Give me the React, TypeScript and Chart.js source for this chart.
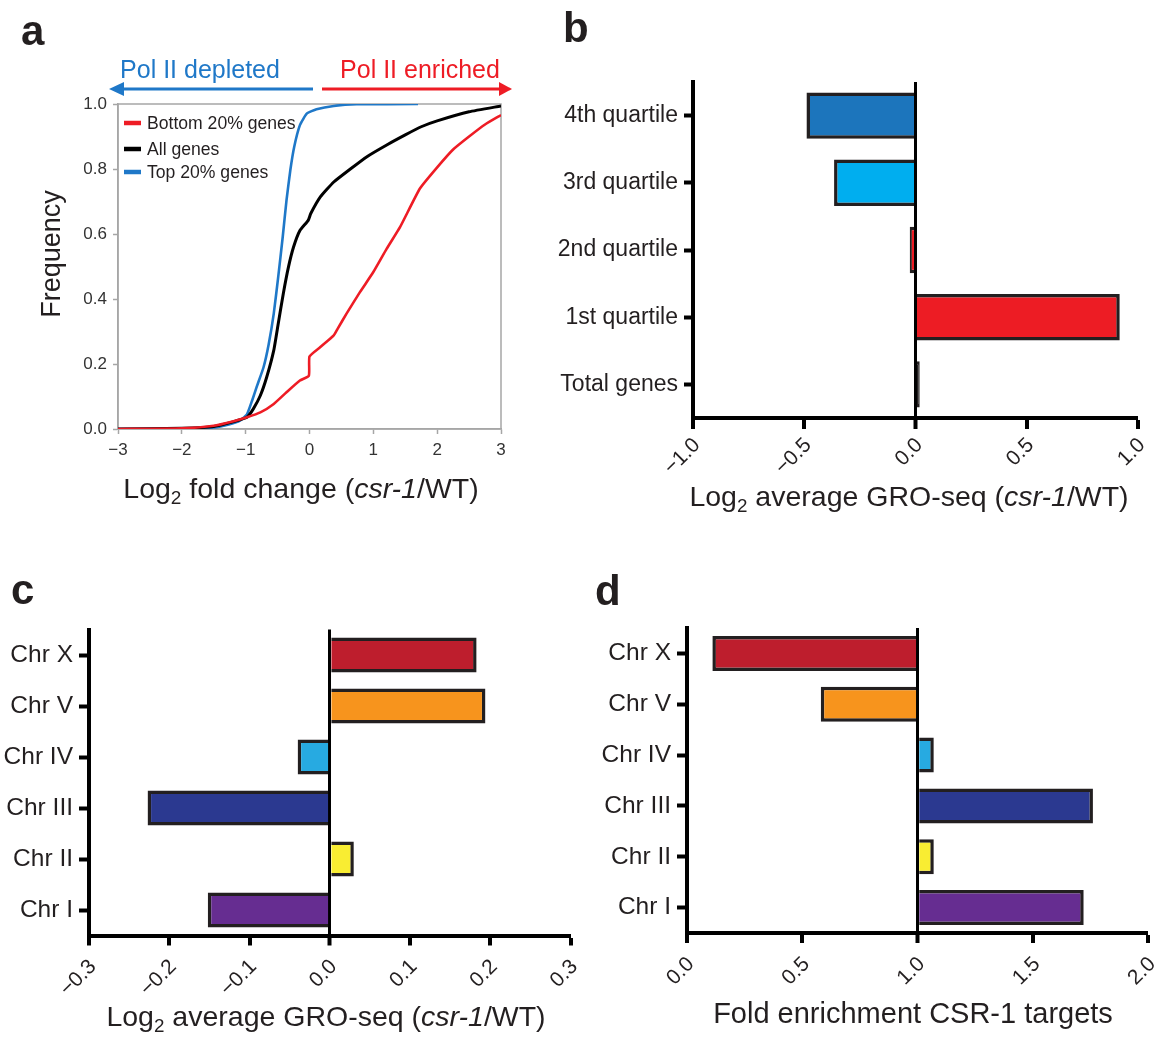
import React, { useEffect, useRef } from 'react';
import { Chart, registerables } from 'chart.js';

Chart.register(...registerables);

const FONT = "'Liberation Sans', Arial, Helvetica, sans-serif";
Chart.defaults.font.family = FONT;

// ---------- Panel a: cumulative frequency of log2 fold change ----------
const log2FcBottom = [-3, -2, -1.5, -1.19, -0.98, -0.77, -0.56, -0.36, -0.15, -0.01, 0.0, 0.17, 0.38, 0.44, 0.58, 0.79, 1.0, 1.21, 1.42, 1.73, 2.0, 2.25, 2.5, 2.75, 3.0];
const freqBottom = [0, 0.002, 0.01, 0.024, 0.036, 0.051, 0.077, 0.113, 0.149, 0.164, 0.223, 0.252, 0.288, 0.308, 0.355, 0.421, 0.483, 0.555, 0.622, 0.74, 0.805, 0.86, 0.9, 0.937, 0.966];

const log2FcAll = [-3, -2, -1.5, -1.2, -0.98, -0.88, -0.77, -0.67, -0.56, -0.49, -0.41, -0.33, -0.25, -0.15, -0.02, 0.02, 0.17, 0.38, 0.64, 0.9, 1.21, 1.5, 1.75, 2.0, 2.5, 3.0];
const freqAll = [0, 0.002, 0.008, 0.022, 0.036, 0.062, 0.103, 0.16, 0.242, 0.324, 0.417, 0.498, 0.56, 0.611, 0.642, 0.663, 0.714, 0.76, 0.8, 0.838, 0.874, 0.905, 0.93, 0.948, 0.976, 0.994];

const log2FcTop = [-3, -2, -1.5, -1.25, -1.09, -0.98, -0.9, -0.83, -0.72, -0.64, -0.56, -0.49, -0.42, -0.36, -0.3, -0.24, -0.15, -0.04, 0.11, 0.38, 0.74, 1.7];
const freqTop = [0, 0.001, 0.005, 0.015, 0.026, 0.045, 0.087, 0.128, 0.19, 0.26, 0.355, 0.468, 0.59, 0.704, 0.797, 0.868, 0.935, 0.971, 0.984, 0.994, 0.999, 1.0];

const legendNames = ['Bottom 20% genes', 'All genes', 'Top 20% genes'];
const curveColors = ['#ee1c25', '#000000', '#1f78c8'];
const curveWidths = [2.6, 3, 2.6];

// ---------- Panel b: quartiles ----------
const quartileLabels = ['4th quartile', '3rd quartile', '2nd quartile', '1st quartile', 'Total genes'];
const quartileValues = [-0.49, -0.366, -0.026, 0.918, 0.019];
const quartileColors = ['#1c75bc', '#00aeef', '#ed1c24', '#ed1c24', '#231f20'];

// ---------- Panels c & d: chromosomes ----------
const chrLabels = ['Chr X', 'Chr V', 'Chr IV', 'Chr III', 'Chr II', 'Chr I'];
const chrColors = ['#be1e2d', '#f7941d', '#27aae1', '#2b3990', '#f9ed32', '#662d91'];
const groSeqValues = [0.183, 0.194, -0.04, -0.227, 0.03, -0.152];
const csr1Enrichment = [0.11, 0.58, 1.07, 1.76, 1.07, 1.72];

const MINUS = '\u2212';
const fmt1 = (v: number) => {
  const r = Math.round(v * 10) / 10;
  if (Math.abs(r) < 1e-9) return '0.0';
  return (r < 0 ? MINUS : '') + Math.abs(r).toFixed(1);
};
const fmtInt = (v: number) => {
  const r = Math.round(v);
  return (r < 0 ? MINUS : '') + Math.abs(r);
};

const toPoints = (xs: number[], ys: number[]) => xs.map((x, i) => ({ x, y: ys[i] }));

const framePlugin = {
  id: 'frame',
  beforeDatasetsDraw(chart: any) {
    const { ctx, chartArea } = chart;
    const { left, top, right, bottom } = chartArea;
    ctx.save();
    ctx.strokeStyle = '#a6a6a6';
    ctx.lineWidth = 1.5;
    ctx.strokeRect(left, top, right - left, bottom - top);
    ctx.restore();
  },
};

function buildCdf(canvas: HTMLCanvasElement) {
  const series = [
    toPoints(log2FcBottom, freqBottom),
    toPoints(log2FcAll, freqAll),
    toPoints(log2FcTop, freqTop),
  ];
  return new Chart(canvas, {
    type: 'line',
    data: {
      datasets: series.map((d, i) => ({
        label: legendNames[i],
        data: d,
        borderColor: curveColors[i],
        borderWidth: curveWidths[i],
        pointRadius: 0,
        fill: false,
        tension: 0.15,
        borderJoinStyle: 'round',
      })),
    },
    options: {
      animation: false,
      responsive: false,
      maintainAspectRatio: false,
      layout: { padding: { top: 104, right: 19, left: 0, bottom: 0 } },
      plugins: { legend: { display: false }, tooltip: { enabled: false } },
      scales: {
        x: {
          type: 'linear',
          min: -3,
          max: 3,
          ticks: { stepSize: 1, callback: (v: any) => fmtInt(Number(v)), font: { size: 17 }, color: '#333', padding: 6, maxRotation: 0 },
          grid: { drawOnChartArea: false, drawTicks: true, tickLength: 5, color: '#a6a6a6', tickColor: '#a6a6a6', tickWidth: 1.5 },
          border: { display: true, color: '#a6a6a6', width: 1.5 },
          afterFit: (s: any) => { s.height = 41; s.paddingLeft = 0; s.paddingRight = 0; },
        },
        y: {
          type: 'linear',
          min: 0,
          max: 1,
          ticks: { stepSize: 0.2, callback: (v: any) => Number(v).toFixed(1), font: { size: 17 }, color: '#333', padding: 6 },
          grid: { drawOnChartArea: false, drawTicks: true, tickLength: 5, color: '#a6a6a6', tickColor: '#a6a6a6', tickWidth: 1.5 },
          border: { display: true, color: '#a6a6a6', width: 1.5 },
          afterFit: (s: any) => { s.width = 118; },
        },
      },
    } as any,
    plugins: [framePlugin],
  });
}

type BarOpts = {
  min: number; max: number; step: number; refValue: number; base?: number;
  yWidth: number; xHeight: number; padTop: number; padRight: number;
  yFont: number; xFont: number; yTick: number; xTick: number; xPad: number; yPad: number; labelOffset: number;
};

function buildBar(canvas: HTMLCanvasElement, labels: string[], values: number[], colors: string[], o: BarOpts) {
  const isRef = (ctx: any) => ctx && ctx.tick && Math.abs(ctx.tick.value - o.refValue) < 1e-9;
  const ds: any = {
    data: values,
    backgroundColor: colors,
    borderColor: '#231f20',
    borderWidth: 3.5,
    borderSkipped: 'start',
    barPercentage: 0.69,
    categoryPercentage: 1,
  };
  if (o.base !== undefined) ds.base = o.base;
  return new Chart(canvas, {
    type: 'bar',
    data: { labels, datasets: [ds] },
    options: {
      indexAxis: 'y',
      animation: false,
      responsive: false,
      maintainAspectRatio: false,
      layout: { padding: { top: o.padTop, right: o.padRight, left: 0, bottom: 0 } },
      plugins: { legend: { display: false }, tooltip: { enabled: false } },
      scales: {
        x: {
          type: 'linear',
          min: o.min,
          max: o.max,
          z: 1,
          ticks: {
            stepSize: o.step, autoSkip: false, maxRotation: 45, minRotation: 45, labelOffset: o.labelOffset,
            callback: (v: any) => fmt1(Number(v)), font: { size: o.xFont }, color: '#231f20', padding: o.xPad,
          },
          grid: {
            drawOnChartArea: true, drawTicks: true, tickLength: o.xTick, tickWidth: 4, tickColor: '#000',
            color: (ctx: any) => (isRef(ctx) ? '#000' : 'rgba(0,0,0,0)'),
            lineWidth: (ctx: any) => (isRef(ctx) ? 3 : 0),
          },
          border: { display: true, color: '#000', width: 4 },
          afterFit: (s: any) => { s.height = o.xHeight; s.paddingLeft = 0; s.paddingRight = 0; },
        },
        y: {
          type: 'category',
          offset: true,
          ticks: { font: { size: o.yFont }, color: '#231f20', padding: o.yPad, autoSkip: false },
          grid: { offset: false, drawOnChartArea: false, drawTicks: true, tickLength: o.yTick, tickWidth: 4, tickColor: '#000', color: '#000' },
          border: { display: true, color: '#000', width: 4 },
          afterFit: (s: any) => { s.width = o.yWidth; s.paddingTop = 0; s.paddingBottom = 0; },
        },
      },
    } as any,
  });
}

function ChartCanvas(props: { left: number; top: number; width: number; height: number; build: (c: HTMLCanvasElement) => Chart }) {
  const ref = useRef<HTMLCanvasElement>(null);
  useEffect(() => {
    const chart = props.build(ref.current as HTMLCanvasElement);
    return () => chart.destroy();
  }, []);
  return (
    <canvas
      ref={ref}
      width={props.width}
      height={props.height}
      style={{ position: 'absolute', left: props.left, top: props.top, width: props.width, height: props.height }}
    />
  );
}

function GroTitle({ x, y, size }: { x: number; y: number; size: number }) {
  return (
    <text x={x} y={y} textAnchor="middle" fontSize={size} fill="#231f20">
      Log<tspan dy={6} fontSize={size * 0.66}>2</tspan><tspan dy={-6}> average GRO-seq (</tspan><tspan fontStyle="italic">csr-1</tspan>/WT)
    </text>
  );
}

export default function App() {
  const legendY = [123, 149, 172];
  const legendBase = [129, 155, 178];
  return (
    <div style={{ position: 'absolute', left: 0, top: 0, width: 1158, height: 1041, background: '#fff', overflow: 'hidden', fontFamily: FONT }}>
      <ChartCanvas left={0} top={0} width={520} height={470} build={buildCdf} />
      <ChartCanvas
        left={540} top={0} width={618} height={520}
        build={(c) => buildBar(c, quartileLabels, quartileValues, quartileColors, {
          min: -1, max: 1, step: 0.5, refValue: 0, yWidth: 153, xHeight: 102, padTop: 82, padRight: 20,
          yFont: 23, xFont: 21, yTick: 9, xTick: 11, xPad: 4, yPad: 6, labelOffset: 4,
        })}
      />
      <ChartCanvas
        left={0} top={540} width={580} height={501}
        build={(c) => buildBar(c, chrLabels, groSeqValues, chrColors, {
          min: -0.3, max: 0.3, step: 0.1, refValue: 0, yWidth: 89, xHeight: 105.5, padTop: 89.5, padRight: 9.5,
          yFont: 24.5, xFont: 21, yTick: 10, xTick: 10, xPad: 9, yPad: 6, labelOffset: 4,
        })}
      />
      <ChartCanvas
        left={580} top={540} width={578} height={501}
        build={(c) => buildBar(c, chrLabels, csr1Enrichment, chrColors, {
          min: 0, max: 2, step: 0.5, refValue: 1, base: 1, yWidth: 107, xHeight: 108, padTop: 88, padRight: 9.7,
          yFont: 24.5, xFont: 21, yTick: 10, xTick: 10, xPad: 9, yPad: 6, labelOffset: 4,
        })}
      />
      <svg width={1158} height={1041} style={{ position: 'absolute', left: 0, top: 0, pointerEvents: 'none' }} fontFamily={FONT}>
        {/* panel letters */}
        <text x={21} y={45} fontSize={42} fontWeight="bold" fill="#231f20">a</text>
        <text x={563} y={42} fontSize={42} fontWeight="bold" fill="#231f20">b</text>
        <text x={11} y={604} fontSize={42} fontWeight="bold" fill="#231f20">c</text>
        <text x={595} y={605} fontSize={42} fontWeight="bold" fill="#231f20">d</text>

        {/* Pol II arrows */}
        <text x={200} y={78} textAnchor="middle" fontSize={25} fill="#1f78c8">Pol II depleted</text>
        <text x={420} y={78} textAnchor="middle" fontSize={25} fill="#ee1c25">Pol II enriched</text>
        <line x1={120} y1={89} x2={313} y2={89} stroke="#1f78c8" strokeWidth={3} />
        <polygon points="109,89 124,82 124,96" fill="#1f78c8" />
        <line x1={322} y1={89} x2={501} y2={89} stroke="#ee1c25" strokeWidth={3} />
        <polygon points="512,89 499,82 499,96" fill="#ee1c25" />

        {/* legend for panel a */}
        {legendNames.map((n, i) => (
          <g key={n}>
            <line x1={124} y1={legendY[i]} x2={141} y2={legendY[i]} stroke={curveColors[i]} strokeWidth={4.5} />
            <text x={147} y={legendBase[i]} fontSize={17.6} fill="#231f20">{n}</text>
          </g>
        ))}

        {/* panel a axis titles */}
        <text transform="translate(60,254) rotate(-90)" textAnchor="middle" fontSize={27} fill="#231f20">Frequency</text>
        <text x={301} y={498} textAnchor="middle" fontSize={28.5} fill="#231f20">
          Log<tspan dy={6} fontSize={19}>2</tspan><tspan dy={-6}> fold change (</tspan><tspan fontStyle="italic">csr-1</tspan>/WT)
        </text>

        {/* panel b, c, d titles */}
        <GroTitle x={909} y={506} size={28.5} />
        <GroTitle x={326} y={1026} size={28.5} />
        <text x={913} y={1023} textAnchor="middle" fontSize={29} fill="#231f20">Fold enrichment CSR-1 targets</text>
      </svg>
    </div>
  );
}
